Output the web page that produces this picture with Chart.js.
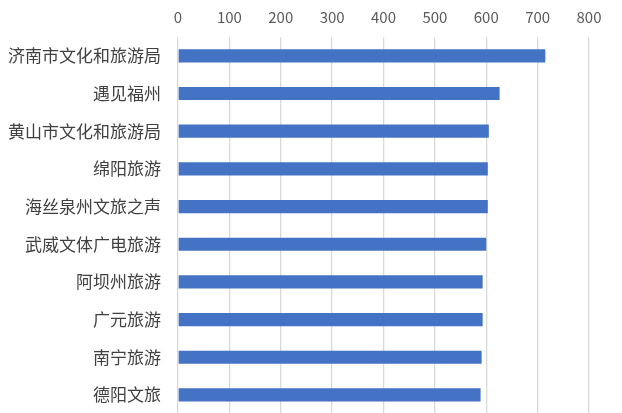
<!DOCTYPE html>
<html>
<head>
<meta charset="utf-8">
<script src="https://cdn.jsdelivr.net/npm/chart.js@4"></script>
<style>
  html, body { margin: 0; padding: 0; background: #fff; overflow: hidden; }
  #wrap { width: 622px; height: 413px; overflow: hidden; }
</style>
</head>
<body>
<div id="wrap"><canvas id="chart" width="622" height="441"></canvas></div>
<script>
// categories and values
const accounts = ['济南市文化和旅游局', '遇见福州', '黄山市文化和旅游局', '绵阳旅游', '海丝泉州文旅之声',
    '武威文体广电旅游', '阿坝州旅游', '广元旅游', '南宁旅游', '德阳文旅'];
const scores = [715, 626, 605, 603, 603, 600, 593, 593, 591, 589];
const axisMin = 0;
const axisMax = 800;
const axisStep = 100;

const ctx = document.getElementById('chart');
new Chart(ctx, {
    type: 'bar',
    data: {
        labels: accounts,
        datasets: [{
            data: scores,
            backgroundColor: '#4472C4',
            borderWidth: 0,
            barPercentage: 0.35,
            categoryPercentage: 1
        }]
    },
    options: {
        indexAxis: 'y',
        responsive: false,
        animation: false,
        layout: {
            padding: { left: -9, right: 33, top: -3, bottom: 0 }
        },
        plugins: {
            legend: { display: false },
            tooltip: { enabled: false }
        },
        scales: {
            x: {
                position: 'top',
                min: axisMin,
                max: axisMax,
                ticks: {
                    stepSize: axisStep,
                    color: '#595959',
                    padding: 11,
                    font: { family: 'Noto Sans CJK SC', size: 15 }
                },
                grid: {
                    color: '#d9d9d9',
                    lineWidth: 1.3,
                    drawTicks: false
                },
                border: { display: false }
            },
            y: {
                ticks: {
                    color: '#404040',
                    padding: 17,
                    font: { family: 'Noto Sans CJK SC', size: 17 }
                },
                grid: { display: false, drawTicks: false },
                border: { display: false }
            }
        }
    }
});
</script>
</body>
</html>
